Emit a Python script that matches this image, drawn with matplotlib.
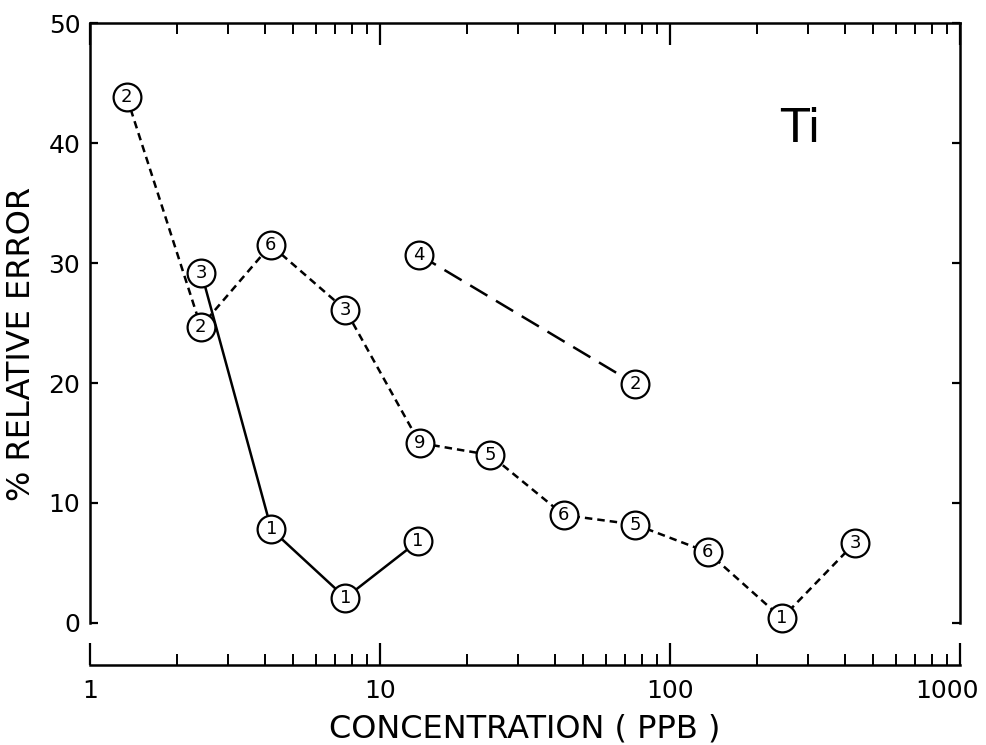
import matplotlib.pyplot as plt
from matplotlib.ticker import LogLocator, FixedLocator, NullFormatter, FixedFormatter
from matplotlib.transforms import ScaledTranslation

# --- data ---
# short-dashed series
dash_x = [1.34, 2.41, 4.2, 7.6, 13.7, 24.0, 43.0, 76.0, 135.0, 243.0, 435.0]
dash_y = [43.8, 24.7, 31.5, 26.1, 15.0, 14.0, 9.0, 8.2, 5.9, 0.4, 6.7]
dash_n = ["2", "2", "6", "3", "9", "5", "6", "5", "6", "1", "3"]

# solid series
solid_x = [2.42, 4.22, 7.6, 13.5]
solid_y = [29.2, 7.8, 2.1, 6.8]
solid_n = ["3", "1", "1", "1"]

# long-dashed series
long_x = [13.6, 76.0]
long_y = [30.7, 19.9]
long_n = ["4", "2"]

x_ticks = [1, 10, 100, 1000]
y_ticks = [0, 10, 20, 30, 40, 50]

plt.rcParams['font.family'] = ['DejaVu Sans']

fig = plt.figure(figsize=(9.86, 7.45), dpi=100)
ax = fig.add_axes([90/986, 1 - 665/745, 870/986, 642/745])

lw = 1.8
msize = 20

def draw(xs, ys, labels, style):
    ax.plot(xs, ys, color='black', lw=lw, **style, zorder=2)
    ax.plot(xs, ys, ls='none', marker='o', ms=msize, mfc='white',
            mec='black', mew=1.6, zorder=3)
    for x, y, t in zip(xs, ys, labels):
        ax.text(x, y, t, ha='center', va='center', fontsize=13, zorder=4)

draw(dash_x, dash_y, dash_n, dict(ls=(0, (3, 2))))
draw(solid_x, solid_y, solid_n, dict(ls='-'))
draw(long_x, long_y, long_n, dict(ls=(0, (8, 4))))

ax.set_xscale('log')
ax.set_xlim(1, 1000)
ax.set_ylim(-3.5, 50)

ax.spines['left'].set_bounds(0, 50)
ax.spines['right'].set_bounds(0, 50)
for s in ax.spines.values():
    s.set_linewidth(1.8)

ax.xaxis.set_major_locator(FixedLocator(x_ticks))
ax.xaxis.set_major_formatter(FixedFormatter([str(v) for v in x_ticks]))
ax.xaxis.set_minor_locator(LogLocator(base=10, subs=range(2, 10)))
ax.xaxis.set_minor_formatter(NullFormatter())
ax.set_yticks(y_ticks)

ax.tick_params(axis='x', which='major', direction='in', top=True, bottom=True,
               length=16, width=1.6, labelsize=18, pad=10)
ax.tick_params(axis='x', which='minor', direction='in', top=True, bottom=True,
               length=8, width=1.4)
ax.tick_params(axis='y', direction='in', left=True, right=True,
               length=6, width=1.6, labelsize=18, pad=7)

# keep "1000" inside the picture, as in the original
last = ax.get_xticklabels()[-1]
last.set_transform(last.get_transform() + ScaledTranslation(-9/72, 0, fig.dpi_scale_trans))

ax.text(800/986, 1 - 130/745, 'Ti', transform=fig.transFigure,
        ha='center', va='center', fontsize=34)

ax.set_xlabel('CONCENTRATION ( PPB )', fontsize=23, labelpad=8)
ax.set_ylabel('% RELATIVE ERROR', fontsize=23, labelpad=8)

fig.savefig('out.png', dpi=100)
